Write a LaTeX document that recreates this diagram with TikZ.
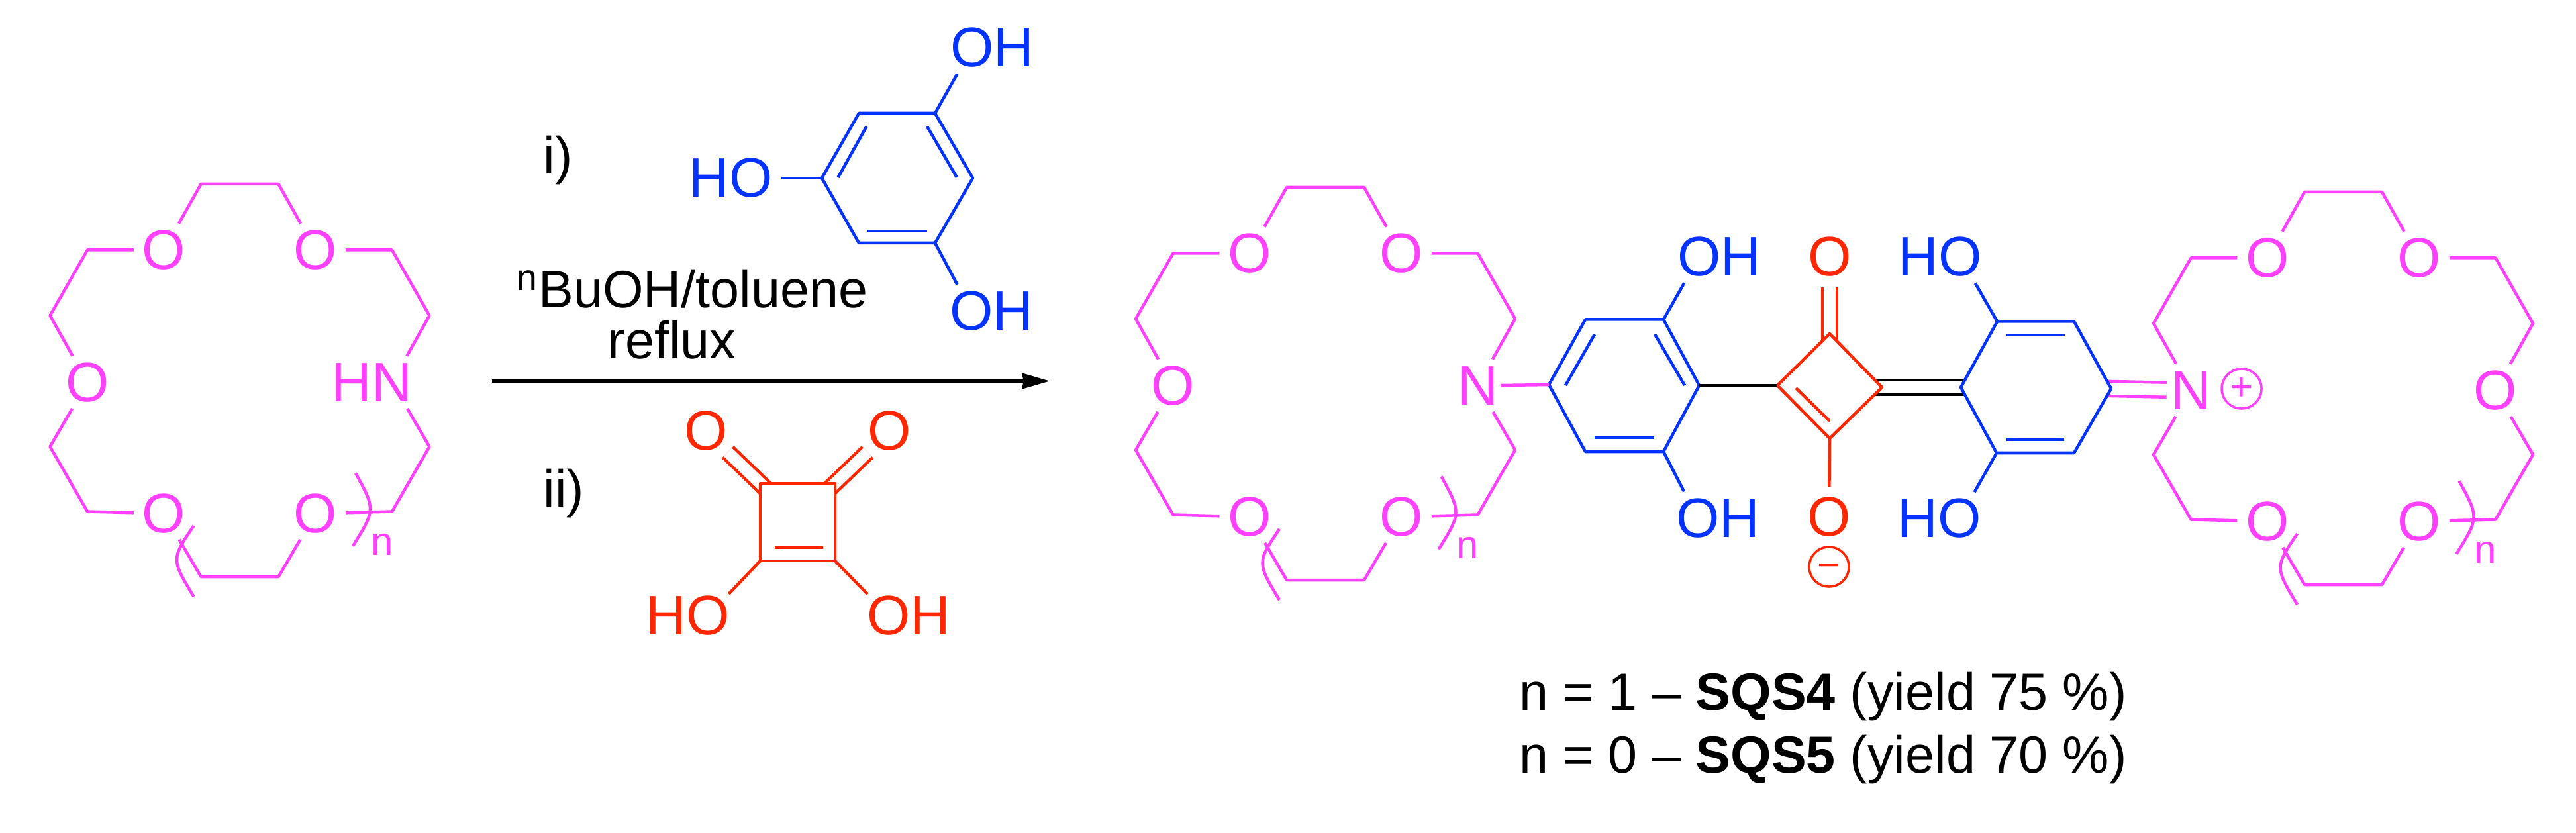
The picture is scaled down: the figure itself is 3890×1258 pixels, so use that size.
\documentclass[tikz,border=0pt]{standalone}
\usepackage{fontspec}
\setmainfont{Liberation Sans}
\usetikzlibrary{arrows.meta}
\definecolor{crownmag}{HTML}{FF40FF}
\definecolor{ringblue}{HTML}{0433FF}
\definecolor{acidred}{HTML}{FF2600}
\tikzset{%
	bond/.style     = {line width=0.045cm, line join=round},
	dblbond/.style  = {line width=0.045cm, double=white, double distance=0.175cm},
	atom/.style     = {circle, inner sep=0pt, minimum size=0.9cm, font=\fontsize{23.9}{28}\selectfont},
	label/.style    = {anchor=base west, inner sep=0pt, font=\fontsize{22.5}{26}\selectfont},
	charge/.style   = {draw, circle, line width=0.035cm, inner sep=0pt, minimum size=0.6cm, font=\fontsize{17}{19}\selectfont},
	arrow/.style    = {line width=0.04cm, -{Stealth[length=0.42cm,width=0.24cm,inset=0.03cm]}},
	pics/crown/.style 2 args={code={
		\node[atom,crownmag] (O1) at (-114.5,-197) {O};
		\node[atom,crownmag] (O2) at (114.5,-197) {O};
		\node[atom,crownmag] (O3) at (-114.5,201) {O};
		\node[atom,crownmag] (O4) at (114.5,201) {O};
		\node[atom,crownmag] (L) at (-230,3) {#1};
		\node[atom,crownmag] (R) at (230,3) {#2};
		\node[crownmag,font=\fontsize{17}{20}\selectfont] (n) at (215,248) {n};
		\coordinate (a1) at (-58.5,-296.5);
		\coordinate (a2) at (58.5,-296.5);
		\coordinate (a3) at (230,-197);
		\coordinate (a4) at (286.5,-98);
		\coordinate (a5) at (286.5,100);
		\coordinate (a6) at (230,198);
		\coordinate (a7) at (58.5,296.5);
		\coordinate (a8) at (-58.5,296.5);
		\coordinate (a9) at (-230,198);
		\coordinate (a10) at (-286.5,100);
		\coordinate (a11) at (-286.5,-98);
		\coordinate (a12) at (-230,-197);
		\draw[bond,crownmag] (O1) -- (a1) -- (a2) -- (O2);
		\draw[bond,crownmag] (O2) -- (a3) -- (a4) -- (R);
		\draw[bond,crownmag] (R) -- (a5) -- (a6) -- (O4);
		\draw[bond,crownmag] (O4) -- (a7) -- (a8) -- (O3);
		\draw[bond,crownmag] (O3) -- (a9) -- (a10) -- (L);
		\draw[bond,crownmag] (L) -- (a11) -- (a12) -- (O1);
		% repeat brackets
		\draw[bond,crownmag] (175,140) .. controls (205,195) .. (171,250);
		\draw[bond,crownmag] (-69.5,219.5) .. controls (-103.5,270) .. (-69.5,326.5);
	}},
}
\begin{document}
\begin{tikzpicture}[x=0.01cm,y=-0.01cm]
	\useasboundingbox (0,0) rectangle (3890,1258);
	
	% crown ethers
	\pic (left) at (362,574.5) {crown={O}{\llap{H}N}};
	\pic (mid) at (2001.5,579.5) {crown={O}{N}};
	\pic (right) at (3538.5,586.5) {crown={N}{O}};
	
	% reagents and conditions
	\node[label] (stepi) at (820,263) {i)};
	\node[label] (stepii) at (820,765) {ii)};
	\node[label] (solvent) at (780,465) {\textsuperscript{n}BuOH/toluene};
	\node[label] (reflux) at (917,542) {reflux};
	\coordinate (arrowstart) at (743,575.5);
	\coordinate (arrowend) at (1585,575.5);
	\draw[arrow] (arrowstart) -- (arrowend);
	
	% phloroglucinol
	\node[atom,ringblue] (phOa) at (1468,72) {O\rlap{H}};
	\node[atom,ringblue] (phOb) at (1467,470) {O\rlap{H}};
	\node[atom,ringblue] (phOc) at (1134,269) {\llap{H}O};
	\coordinate (ph1) at (1297,171);
	\coordinate (ph2) at (1412,171);
	\coordinate (ph3) at (1469,269);
	\coordinate (ph4) at (1412,367);
	\coordinate (ph5) at (1297,367);
	\coordinate (ph6) at (1241,269);
	\draw[bond,ringblue] (ph1) -- (ph2) -- (ph3) -- (ph4) -- (ph5) -- (ph6) -- cycle;
	\draw[bond,ringblue] (ph2) -- (phOa);
	\draw[bond,ringblue] (ph4) -- (phOb);
	\draw[bond,ringblue] (ph6) -- (phOc);
	\draw[bond,ringblue] (1308.5,191) -- (1265.5,268);
	\draw[bond,ringblue] (1400,191) -- (1445,268);
	\draw[bond,ringblue] (1310,349) -- (1400,349);
	
	% squaric acid
	\node[atom,acidred] (sqOa) at (1066,651) {O};
	\node[atom,acidred] (sqOb) at (1343,651) {O};
	\node[atom,acidred] (sqOc) at (1069,930) {\llap{H}O};
	\node[atom,acidred] (sqOd) at (1342,930) {O\rlap{H}};
	\coordinate (sq1) at (1148,730);
	\coordinate (sq2) at (1261,730);
	\coordinate (sq3) at (1261,847);
	\coordinate (sq4) at (1148,847);
	\draw[dblbond,acidred,shorten >=-0.11cm] (sqOa) -- (sq1);
	\draw[dblbond,acidred,shorten >=-0.11cm] (sqOb) -- (sq2);
	\draw[bond,acidred,fill=white] (sq1) -- (sq2) -- (sq3) -- (sq4) -- cycle;
	\draw[bond,acidred] (sq4) -- (sqOc);
	\draw[bond,acidred] (sq3) -- (sqOd);
	\draw[bond,acidred] (1170,827) -- (1242.5,827);
	
	% product, left ring
	\node[atom,ringblue] (lOa) at (2566,387.5) {O\rlap{H}};
	\node[atom,ringblue] (lOb) at (2564,783) {O\rlap{H}};
	\coordinate (l1) at (2339,581);
	\coordinate (l2) at (2394,482.5);
	\coordinate (l3) at (2512,482.5);
	\coordinate (l4) at (2566,582);
	\coordinate (l5) at (2512,682);
	\coordinate (l6) at (2394,682);
	\draw[bond,ringblue] (l1) -- (l2) -- (l3) -- (l4) -- (l5) -- (l6) -- cycle;
	\draw[bond,ringblue] (l3) -- (lOa);
	\draw[bond,ringblue] (l5) -- (lOb);
	\draw[bond,ringblue] (2408,505) -- (2364,582);
	\draw[bond,ringblue] (2499,505) -- (2544,582);
	\draw[bond,ringblue] (2408,661) -- (2498,661);
	\draw[bond,crownmag,shorten <=-0.11cm] (midR) -- (l1);
	
	% product, right ring
	\node[atom,ringblue] (rOa) at (2960,388) {\llap{H}O};
	\node[atom,ringblue] (rOb) at (2959,783) {\llap{H}O};
	\coordinate (r1) at (2961,585);
	\coordinate (r2) at (3016,485.5);
	\coordinate (r3) at (3132,485.5);
	\coordinate (r4) at (3188,587);
	\coordinate (r5) at (3132,684);
	\coordinate (r6) at (3015,684);
	
	% product, squaraine core
	\node[atom,acidred] (cOa) at (2763,388) {O};
	\node[atom,acidred] (cOb) at (2762,781) {O};
	\node[charge,acidred] (minus) at (2762,856) {\vphantom{+}−};
	\coordinate (c1) at (2684,582);
	\coordinate (c2) at (2763,504);
	\coordinate (c3) at (2842,585);
	\coordinate (c4) at (2763,662);
	\draw[dblbond,shorten >=-0.1cm,shorten <=-0.1cm] (c3) -- (r1);
	\draw[dblbond,acidred,shorten >=-0.1cm] (cOa) -- (c2);
	\draw[dblbond,crownmag,shorten <=-0.1cm,shorten >=-0.09cm] (r4) -- (rightL);
	\draw[bond,acidred,fill=white] (c1) -- (c2) -- (c3) -- (c4) -- cycle;
	\draw[bond,acidred] (c4) -- (cOb);
	\draw[bond,acidred] (2712,586) -- (2763,636);
	\draw[bond] (l4) -- (c1);
	\draw[bond,ringblue,fill=white] (r1) -- (r2) -- (r3) -- (r4) -- (r5) -- (r6) -- cycle;
	\draw[bond,ringblue] (r2) -- (rOa);
	\draw[bond,ringblue] (r6) -- (rOb);
	\draw[bond,ringblue] (3030,506) -- (3118,506);
	\draw[bond,ringblue] (3030,663.5) -- (3117,663.5);
	\node[charge,crownmag] (plus) at (3385,587) {+};
	
	% yields
	\node[label] (yielda) at (2294,1072) {n = 1 – \textbf{SQS4} (yield 75 \%)};
	\node[label] (yieldb) at (2294,1167) {n = 0 – \textbf{SQS5} (yield 70 \%)};
	
\end{tikzpicture}
\end{document}
